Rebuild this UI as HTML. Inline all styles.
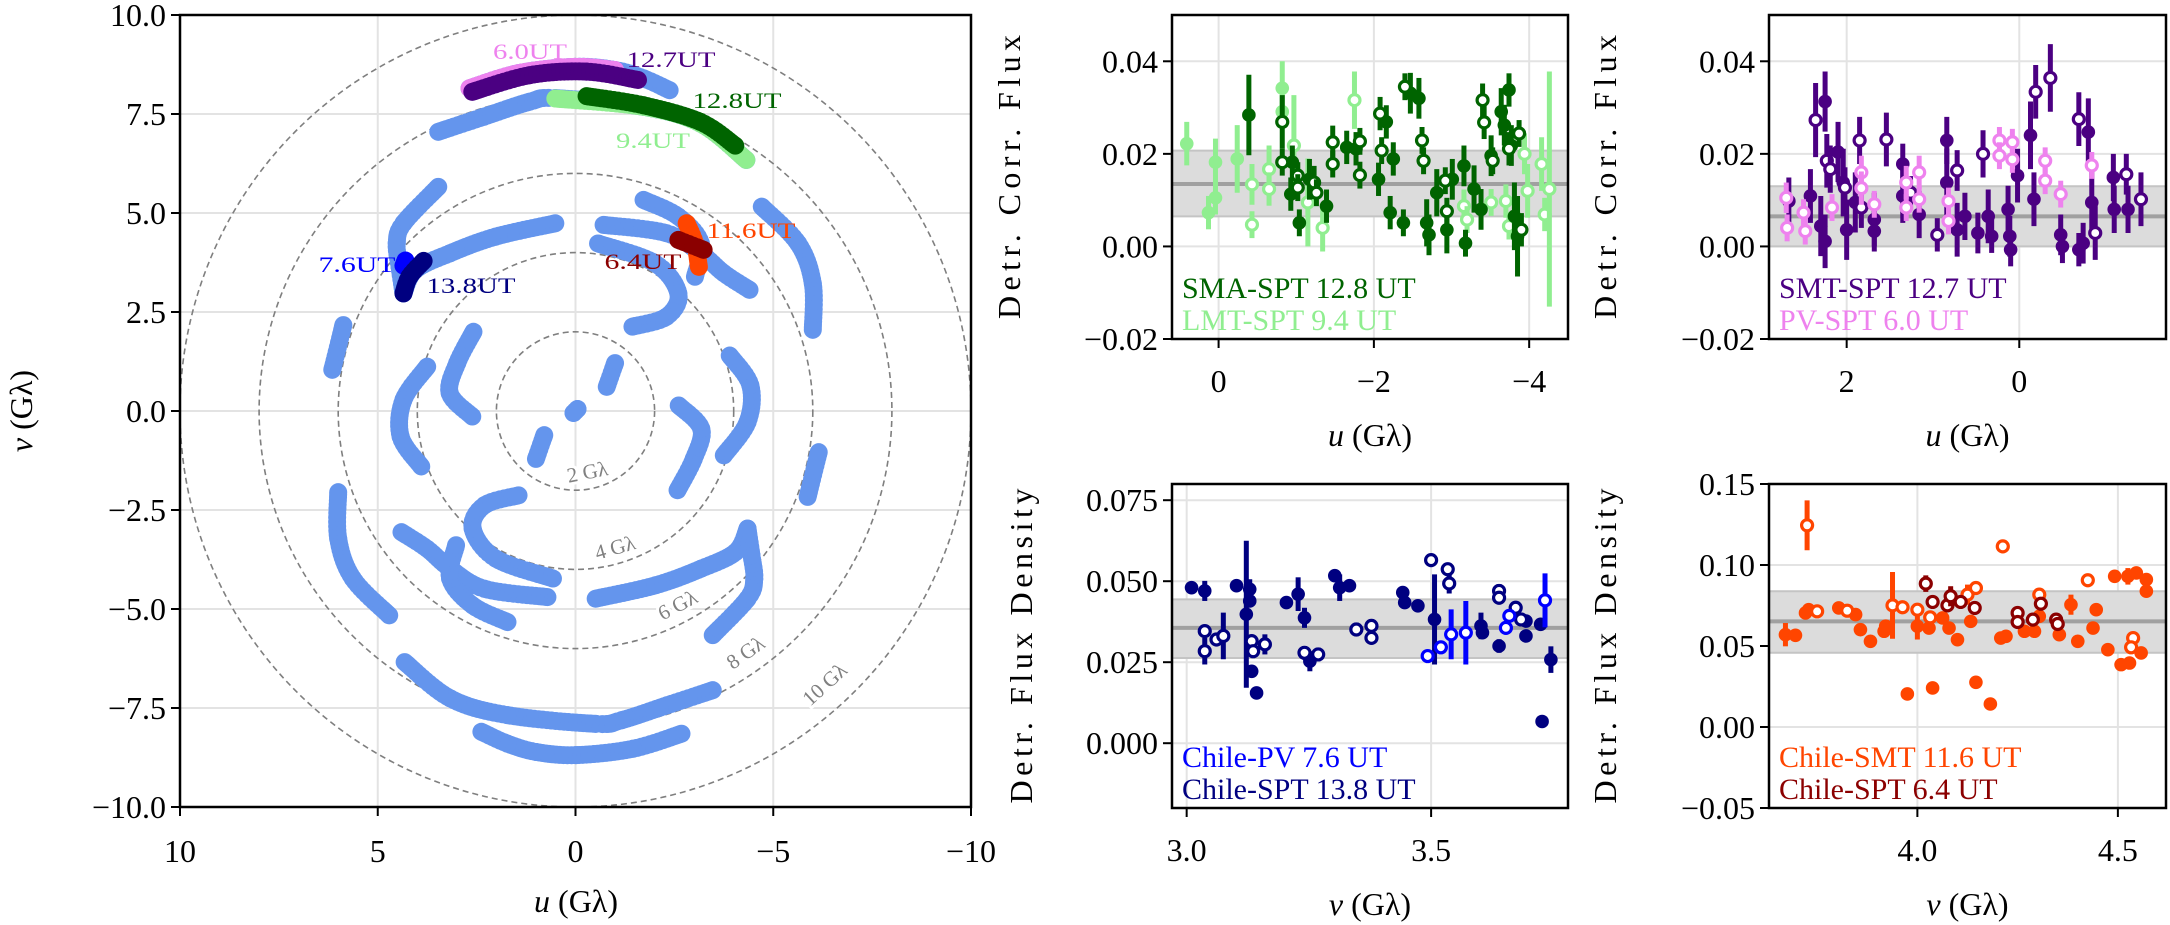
<!DOCTYPE html>
<html><head><meta charset="utf-8"><style>
html,body{margin:0;padding:0;background:#fff;}
svg{display:block;font-family:"Liberation Serif",serif;}
</style></head><body>
<svg id="fig" xmlns="http://www.w3.org/2000/svg" width="2170" height="925" viewBox="0 0 2170 925"></svg>
<script>
// ---------- uv coverage data (u, v in Gλ) ----------
const uvTrackTopA=[[2.68,8.15],[1.45,8.53],[0.01,8.69],[-1.0,8.61],[-1.72,8.40],[-2.38,8.1]];
const uvTrackTopB=[[3.47,7.05],[2.32,7.43],[1.16,7.81],[0.51,7.9],[-1.72,7.68],[-3.16,7.26],[-4.32,6.34]];
const uvTrack2=[[3.47,5.66],[4.35,4.74],[4.52,4.24],[4.45,3.64],[4.35,2.97]];
const uvTrack3=[[0.51,4.74],[2.03,4.40],[3.18,3.98],[4.05,3.56],[4.35,2.97]];
const uvTrack4=[[-0.71,4.70],[-2.30,4.49],[-3.17,3.98],[-3.75,3.48],[-4.4,3.06]];
const uvTrack5=[[-1.72,5.33],[-2.6,4.91],[-3.17,4.23],[-3.02,3.39]];
const uvTrack6=[[-0.57,4.23],[-2.01,3.73],[-2.6,2.97],[-2.3,2.38],[-1.44,2.13]];
const uvTrack7=[[-4.71,5.16],[-5.63,4.23],[-6.0,3.22],[-6.0,2.05]];
const uvTrack7b=[[5.87,2.17],[6.15,1.04]];
const uvTrack8=[[2.58,2.0],[2.99,1.21],[3.18,0.45],[2.61,-0.14]];
const uvTrack9=[[3.75,1.12],[4.35,0.28],[4.42,-0.65],[3.9,-1.4]];
const uvTrack10=[[-1.0,1.21],[-0.79,0.61]];
const uvTrackCenter=[[-0.05,0.05],[0.05,-0.05]];
const uvPink=[[2.68,8.15],[1.45,8.53],[0.01,8.69],[-1.0,8.61]];
const uvPurple=[[2.61,8.06],[1.16,8.48],[-0.28,8.57],[-1.58,8.36]];
const uvLightGreen=[[0.51,7.89],[-1.72,7.68],[-3.16,7.26],[-4.32,6.34]];
const uvDarkGreen=[[-0.28,7.95],[-1.72,7.72],[-3.16,7.3],[-4.04,6.7]];
const uvOrange=[[-2.81,4.74],[-3.02,4.24],[-3.12,3.64]];
const uvDarkRed=[[-2.6,4.32],[-3.24,4.07]];
const uvBlue=[[4.35,3.67],[4.3,3.8]];
const uvNavy=[[3.84,3.79],[4.20,3.39],[4.35,2.97]];
const uvRadii=[2,4,6,8,10];
const uvTickLabelsX=["10","5","0","−5","−10"];
const uvTickValsX=[10,5,0,-5,-10];
const uvTickLabelsY=["10.0","7.5","5.0","2.5","0.0","−2.5","−5.0","−7.5","−10.0"];
const uvTickValsY=[10,7.5,5,2.5,0,-2.5,-5,-7.5,-10];

// ---------- panel A: SMA-SPT / LMT-SPT (u, flux, err) ----------
const aLmtFilledU=[0.41,0.13,0.04,0.04,-0.24,-0.82,-0.82];
const aLmtFilledF=[0.0222,0.0073,0.0182,0.0105,0.0189,0.0342,0.0291];
const aLmtFilledE=[0.0047,0.0036,0.0051,0.0036,0.0073,0.0058,0.0036];
const aLmtOpenU=[-0.43,-0.65,-0.65,-0.43,-0.97,-1.15,-1.34,-1.75,-3.94,-3.98,-4.16,-4.20,-4.26,-3.16,-3.20,-3.51,-3.70,-3.74];
const aLmtOpenF=[0.0134,0.0167,0.0124,0.0047,0.0218,0.0095,0.0040,0.0316,0.0200,0.0120,0.0178,0.0069,0.0124,0.0087,0.0058,0.0095,0.0098,0.0044];
const aLmtOpenE=[0.0044,0.0051,0.0036,0.0029,0.0109,0.0095,0.0051,0.0062,0.0044,0.0058,0.0058,0.0036,0.0254,0.0036,0.0029,0.0029,0.0036,0.0029];
const aSmaFilledU=[-0.39,-0.95,-0.93,-1.04,-1.17,-1.39,-1.65,-1.77,-2.06,-2.16,-2.25,-2.21,-2.38,-2.47,-2.58,-2.68,-2.71,-2.81,-2.94,-3.01,-3.16,-3.18,-3.29,-3.38,-3.64,-3.68,-3.74,-3.81,-3.85,-3.77,-3.51];
const aSmaFilledF=[0.0284,0.0182,0.0113,0.0051,0.0145,0.0087,0.0214,0.0211,0.0145,0.0269,0.0189,0.0073,0.0051,0.0331,0.0320,0.0051,0.0025,0.0116,0.0036,0.0145,0.0174,0.0007,0.0124,0.0080,0.0291,0.0262,0.0338,0.0065,0.0022,0.0218,0.0196];
const aSmaFilledE=[0.0087,0.0036,0.0036,0.0029,0.0044,0.0036,0.0036,0.0036,0.0036,0.0036,0.0036,0.0036,0.0029,0.0044,0.0044,0.0051,0.0044,0.0051,0.0051,0.0044,0.0044,0.0029,0.0051,0.0044,0.0051,0.0044,0.0036,0.0073,0.0087,0.0044,0.0044];
const aSmaOpenU=[-0.82,-0.82,-1.02,-1.02,-1.23,-1.26,-1.47,-1.47,-1.82,-1.82,-2.08,-2.10,-2.40,-2.62,-2.64,-2.92,-2.94,-3.40,-3.42,-3.53,-3.74,-3.87,-3.90];
const aSmaOpenF=[0.0269,0.0182,0.0153,0.0127,0.0138,0.0116,0.0225,0.0178,0.0227,0.0154,0.0287,0.0207,0.0345,0.0229,0.0185,0.0142,0.0076,0.0316,0.0268,0.0185,0.0211,0.0244,0.0036];
const aSmaOpenE=[0.0058,0.0029,0.0029,0.0029,0.0036,0.0029,0.0036,0.0029,0.0029,0.0029,0.0036,0.0029,0.0029,0.0029,0.0029,0.0029,0.0029,0.0036,0.0036,0.0029,0.0036,0.0029,0.0036];
const aBand=[0.0065,0.0135,0.0207];

// ---------- panel B: SMT-SPT / PV-SPT ----------
const bSmtFilledU=[2.67,2.42,2.25,2.30,2.25,2.10,2.04,2.00,1.90,1.68,1.68,1.35,1.35,1.16,0.84,0.84,0.72,0.63,0.48,0.36,0.32,0.13,0.11,0.10,0.02,-0.13,-0.17,-0.48,-0.50,-0.69,-0.74,-0.80,-0.84,-1.09,-1.10,-1.26];
const bSmtFilledF=[0.0098,0.0109,0.0313,0.0044,0.0011,0.0204,0.0138,0.0036,0.0095,0.0058,0.0033,0.0178,0.0109,0.0069,0.0229,0.0138,0.0036,0.0065,0.0029,0.0065,0.0022,0.0080,0.0022,-0.0007,0.0153,0.0240,0.0102,0.0025,0.0000,-0.0007,0.0007,0.0247,0.0095,0.0149,0.0080,0.0080];
const bSmtFilledE=[0.0051,0.0058,0.0065,0.0065,0.0058,0.0065,0.0073,0.0065,0.0065,0.0058,0.0044,0.0044,0.0058,0.0051,0.0051,0.0073,0.0058,0.0051,0.0044,0.0058,0.0036,0.0051,0.0044,0.0036,0.0058,0.0073,0.0058,0.0044,0.0036,0.0036,0.0044,0.0073,0.0073,0.0051,0.0051,0.0051];
const bSmtOpenU=[2.36,2.23,2.19,2.02,1.83,1.85,1.54,1.26,0.95,0.72,0.42,-0.19,-0.36,-0.69,-0.88,-1.24,-1.41];
const bSmtOpenF=[0.0273,0.0185,0.0167,0.0127,0.0084,0.0229,0.0231,0.0116,0.0025,0.0164,0.0200,0.0334,0.0364,0.0275,0.0029,0.0156,0.0102];
const bSmtOpenE=[0.0080,0.0058,0.0051,0.0044,0.0044,0.0051,0.0058,0.0036,0.0036,0.0044,0.0051,0.0058,0.0073,0.0058,0.0058,0.0044,0.0058];
const bPvOpenU=[2.70,2.69,2.50,2.48,2.17,1.83,1.83,1.68,1.31,1.31,1.16,1.16,0.82,0.82,0.23,0.23,0.08,0.08,-0.30,-0.30,-0.48,-0.84];
const bPvOpenF=[0.0105,0.0040,0.0073,0.0033,0.0084,0.0160,0.0126,0.0091,0.0138,0.0084,0.0160,0.0102,0.0098,0.0055,0.0229,0.0196,0.0225,0.0188,0.0185,0.0142,0.0113,0.0175];
const bPvOpenE=[0.0033,0.0029,0.0029,0.0029,0.0029,0.0036,0.0036,0.0029,0.0036,0.0029,0.0036,0.0029,0.0029,0.0029,0.0029,0.0029,0.0029,0.0029,0.0029,0.0029,0.0029,0.0029];
const bBand=[0.0,0.0065,0.013];

// ---------- panel C: Chile-SPT / Chile-PV (v, flux, err) ----------
const cSptFilledV=[3.010,3.037,3.102,3.129,3.129,3.122,3.133,3.143,3.204,3.228,3.241,3.252,3.303,3.313,3.333,3.442,3.446,3.473,3.507,3.602,3.605,3.639,3.694,3.694,3.724,3.745,3.727];
const cSptFilledF=[0.0480,0.0470,0.0486,0.0475,0.0439,0.0398,0.0222,0.0155,0.0434,0.0460,0.0387,0.0253,0.0517,0.0480,0.0486,0.0465,0.0434,0.0424,0.0382,0.0362,0.0341,0.0300,0.0377,0.0331,0.0367,0.0258,0.0067];
const cSptFilledE=[0,0.0031,0,0.0031,0,0.0227,0,0,0,0.0052,0.0031,0.0031,0,0.0041,0,0,0,0,0.0139,0.0041,0,0.0021,0,0,0,0.0041,0];
const cSptOpenV=[3.037,3.037,3.061,3.075,3.133,3.136,3.160,3.241,3.269,3.347,3.378,3.378,3.500,3.534,3.537,3.639,3.639,3.673,3.684];
const cSptOpenF=[0.0346,0.0284,0.0320,0.0331,0.0315,0.0284,0.0305,0.0279,0.0274,0.0351,0.0362,0.0325,0.0565,0.0537,0.0493,0.0470,0.0449,0.0418,0.0382];
const cSptOpenE=[0,0.0041,0,0.0072,0,0,0.0031,0.0021,0.0021,0.0021,0.0021,0,0,0,0.0031,0.0021,0,0,0];
const cPvOpenV=[3.493,3.520,3.541,3.571,3.653,3.660,3.733];
const cPvOpenF=[0.0269,0.0296,0.0336,0.0341,0.0356,0.0393,0.0441];
const cPvOpenE=[0,0,0.0077,0.0098,0,0,0.0083];
const cBand=[0.0263,0.0356,0.0444];

// ---------- panel D: Chile-SMT / Chile-SPT ----------
const dSmtFilledV=[3.671,3.696,3.721,3.729,3.804,3.846,3.858,3.883,3.917,3.921,4.000,4.029,4.063,4.079,4.100,4.133,4.125,4.208,4.221,4.267,4.292,4.304,4.354,4.383,4.400,4.438,4.446,4.475,4.492,4.508,4.525,4.529,4.546,4.558,4.571,4.571,3.975,4.038,4.146,4.182];
const dSmtFilledF=[0.0570,0.0566,0.0704,0.0724,0.0735,0.0694,0.0601,0.0529,0.0591,0.0622,0.0622,0.0611,0.0673,0.0611,0.0539,0.0652,0.0817,0.0549,0.0560,0.0591,0.0591,0.0683,0.0570,0.0755,0.0529,0.0611,0.0724,0.0477,0.0930,0.0385,0.0930,0.0395,0.0951,0.0457,0.0910,0.0838,0.0204,0.0241,0.0276,0.0142];
const dSmtFilledE=[0.0072,0,0,0,0,0,0,0,0,0,0.0082,0,0,0,0,0,0.0062,0,0,0,0,0,0,0.0062,0,0,0,0,0,0,0.0051,0,0,0,0,0,0,0,0,0];
const dSmtOpenV=[3.725,3.750,3.825,3.938,3.963,4.000,4.032,4.125,4.146,4.213,4.304,4.425,4.538,4.533];
const dSmtOpenF=[0.1245,0.0714,0.0718,0.0751,0.0739,0.0724,0.0677,0.0817,0.0858,0.1115,0.0817,0.0906,0.0549,0.0492];
const dSmtOpenE=[0.0154,0,0,0.0206,0,0,0,0,0,0,0,0,0,0];
const dSptOpenV=[4.021,4.038,4.075,4.083,4.108,4.143,4.250,4.250,4.288,4.308,4.346,4.350];
const dSptOpenF=[0.0885,0.0772,0.0751,0.0807,0.0772,0.0735,0.0704,0.0648,0.0663,0.0761,0.0663,0.0636];
const dSptOpenE=[0.0051,0,0,0.0062,0,0,0,0,0,0,0,0];
const dBand=[0.0458,0.0652,0.0838];

const NS="http://www.w3.org/2000/svg";
const svg=document.getElementById('fig');
function mk(tag,attrs,parent){const e=document.createElementNS(NS,tag);for(const k in attrs)e.setAttribute(k,attrs[k]);(parent||svg).appendChild(e);return e;}
const FS=32;

// ================= LEFT UV PANEL =================
const L={x0:180,x1:971,y0:15,y1:807,min:-10,max:10};
const ux=u=>L.x0+(10-u)/20*(L.x1-L.x0);
const vy=v=>L.y0+(10-v)/20*(L.y1-L.y0);
const gUV=mk('g',{});


mk('rect',{x:L.x0,y:L.y0,width:L.x1-L.x0,height:L.y1-L.y0,fill:'#fff'},gUV);
uvTickValsX.forEach(u=>{const l=mk('line',{x1:ux(u),x2:ux(u),y1:L.y0,y2:L.y1,stroke:'#e3e3e3','stroke-width':2},gUV);

});
uvTickValsY.forEach(v=>{const l=mk('line',{x1:L.x0,x2:L.x1,y1:vy(v),y2:vy(v),stroke:'#e3e3e3','stroke-width':2},gUV);

});
uvRadii.forEach(r=>{const c=mk('ellipse',{cx:ux(0),cy:vy(0),rx:ux(0)-ux(r),ry:vy(-r)-vy(0),fill:'none',stroke:'#7f7f7f','stroke-width':1.6,'stroke-dasharray':'6,4'},gUV);

});
function crPoint(p0,p1,p2,p3,t){
  const t2=t*t,t3=t2*t;
  return [0.5*((2*p1[0])+(-p0[0]+p2[0])*t+(2*p0[0]-5*p1[0]+4*p2[0]-p3[0])*t2+(-p0[0]+3*p1[0]-3*p2[0]+p3[0])*t3),
          0.5*((2*p1[1])+(-p0[1]+p2[1])*t+(2*p0[1]-5*p1[1]+4*p2[1]-p3[1])*t2+(-p0[1]+3*p1[1]-3*p2[1]+p3[1])*t3)];
}
function drawTrack(pts,color,mirror,name){
  const g=mk('g',{fill:color},gUV);
  
  
  const sets=mirror?[pts,pts.map(p=>[-p[0],-p[1]])]:[pts];
  sets.forEach(s=>{
    const P=s.map(p=>[ux(p[0]),vy(p[1])]);
    if(P.length===1){mk('circle',{cx:P[0][0],cy:P[0][1],r:9},g);return;}
    for(let i=0;i<P.length-1;i++){
      const p0=P[Math.max(0,i-1)],p1=P[i],p2=P[i+1],p3=P[Math.min(P.length-1,i+2)];
      const d=Math.hypot(p2[0]-p1[0],p2[1]-p1[1]),n=Math.max(1,Math.ceil(d/4));
      for(let k=0;k<=n;k++){const q=crPoint(p0,p1,p2,p3,k/n);mk('circle',{cx:q[0],cy:q[1],r:9},g);}
    }
  });
}
const BL='#6495ED';
[uvTrackTopA,uvTrackTopB,uvTrack2,uvTrack3,uvTrack4,uvTrack5,uvTrack6,uvTrack7,uvTrack7b,uvTrack8,uvTrack9,uvTrack10,uvTrackCenter].forEach((t,i)=>drawTrack(t,BL,true,'uv-track-'+i));
drawTrack(uvPink,'#EE82EE',false,'uv-pv-spt');
drawTrack(uvPurple,'#4B0082',false,'uv-smt-spt');
drawTrack(uvLightGreen,'#90EE90',false,'uv-lmt-spt');
drawTrack(uvDarkGreen,'#006400',false,'uv-sma-spt');
drawTrack(uvOrange,'#FF4500',false,'uv-chile-smt');
drawTrack(uvDarkRed,'#8B0000',false,'uv-chile-spt-64');
drawTrack(uvBlue,'#0000FF',false,'uv-chile-pv');
drawTrack(uvNavy,'#000080',false,'uv-chile-spt-138');
const ringLabelPos=[[-0.3,-1.54],[-1.0,-3.45],[-2.58,-4.9],[-4.3,-6.1],[-6.3,-6.9]];
uvRadii.forEach((r,i)=>{
  const px=ux(ringLabelPos[i][0]),py=vy(ringLabelPos[i][1]);
  const dx=px-ux(0),dy=py-vy(0);
  const ang=Math.atan2(-dx,dy)*180/Math.PI;
  const t=mk('text',{x:px,y:py,'font-size':21,fill:'#808080','text-anchor':'middle','dominant-baseline':'central',transform:`rotate(${ang} ${px} ${py})`,stroke:'#fff','stroke-width':6,'paint-order':'stroke'},gUV);
  t.textContent=r+' Gλ';
  
  
});
const timeLabels=[["6.0UT",530,59,74,'#EE82EE'],["12.7UT",671,67,89,'#4B0082'],["12.8UT",737,108,89,'#006400'],["9.4UT",653,148,74,'#90EE90'],["11.6UT",751,238,89,'#FF4500'],["6.4UT",643,269,77,'#8B0000'],["7.6UT",357,272,77,'#0000FF'],["13.8UT",471,293,89,'#000080']];
timeLabels.forEach(l=>{const t=mk('text',{x:l[1],y:l[2],'font-size':22,fill:l[4],'text-anchor':'middle',textLength:l[3],lengthAdjust:'spacingAndGlyphs'},gUV);t.textContent=l[0];

});
mk('rect',{x:L.x0,y:L.y0,width:L.x1-L.x0,height:L.y1-L.y0,fill:'none',stroke:'#000','stroke-width':2.5},gUV);
uvTickValsX.forEach((u,i)=>{mk('line',{x1:ux(u),x2:ux(u),y1:L.y1,y2:L.y1+9,stroke:'#000','stroke-width':2},gUV);
const t=mk('text',{x:ux(u),y:862,'font-size':FS,'text-anchor':'middle'},gUV);t.textContent=uvTickLabelsX[i];

});
uvTickValsY.forEach((v,i)=>{mk('line',{x1:L.x0-9,x2:L.x0,y1:vy(v),y2:vy(v),stroke:'#000','stroke-width':2},gUV);
const t=mk('text',{x:L.x0-14,y:vy(v)+11,'font-size':FS,'text-anchor':'end'},gUV);t.textContent=uvTickLabelsY[i];

});
let t0=mk('text',{x:576,y:912,'font-size':FS,'text-anchor':'middle'});
t0.innerHTML='<tspan font-style="italic">u</tspan> (Gλ)';


t0=mk('text',{x:0,y:0,'font-size':FS,'text-anchor':'middle',transform:'translate(32,411) rotate(-90)'});
t0.innerHTML='<tspan font-style="italic">v</tspan> (Gλ)';



// ================= SMALL PANELS =================
function panel(cfg){
  const g=mk('g',{});
  
  
  const X=x=>cfg.x0+(x-cfg.xmin)/(cfg.xmax-cfg.xmin)*(cfg.x1-cfg.x0);
  const Y=y=>cfg.y1-(y-cfg.ymin)/(cfg.ymax-cfg.ymin)*(cfg.y1-cfg.y0);
  const clip='clip-'+cfg.name;
  const cp=mk('clipPath',{id:clip},g);mk('rect',{x:cfg.x0,y:cfg.y0,width:cfg.x1-cfg.x0,height:cfg.y1-cfg.y0},cp);
  const inner=mk('g',{'clip-path':`url(#${clip})`},g);
  cfg.xt.forEach(x=>mk('line',{x1:X(x),x2:X(x),y1:cfg.y0,y2:cfg.y1,stroke:'#e3e3e3','stroke-width':2},inner));
  cfg.yt.forEach(y=>mk('line',{x1:cfg.x0,x2:cfg.x1,y1:Y(y),y2:Y(y),stroke:'#e3e3e3','stroke-width':2},inner));
  const band=mk('rect',{x:cfg.x0,y:Y(cfg.band[2]),width:cfg.x1-cfg.x0,height:Y(cfg.band[0])-Y(cfg.band[2]),fill:'#dcdcdc'},inner);
  
  
  [cfg.band[0],cfg.band[2]].forEach(b=>mk('line',{x1:cfg.x0,x2:cfg.x1,y1:Y(b),y2:Y(b),stroke:'#c4c4c4','stroke-width':2},inner));
  const ml=mk('line',{x1:cfg.x0,x2:cfg.x1,y1:Y(cfg.band[1]),y2:Y(cfg.band[1]),stroke:'#a0a0a0','stroke-width':4},inner);
  
  
  cfg.series.forEach(s=>{
    const sg=mk('g',{},inner);
    
    
    s.x.forEach((xv,i)=>{
      const px=X(xv),py=Y(s.y[i]);
      if(s.e[i]>0)mk('line',{x1:px,x2:px,y1:Y(s.y[i]+s.e[i]),y2:Y(s.y[i]-s.e[i]),stroke:s.c,'stroke-width':5},sg);
      if(s.open)mk('circle',{cx:px,cy:py,r:5.5,fill:'#fff',stroke:s.c,'stroke-width':3.2},sg);
      else mk('circle',{cx:px,cy:py,r:6.8,fill:s.c},sg);
    });
  });
  mk('rect',{x:cfg.x0,y:cfg.y0,width:cfg.x1-cfg.x0,height:cfg.y1-cfg.y0,fill:'none',stroke:'#000','stroke-width':2.5},g);
  cfg.xt.forEach((x,i)=>{mk('line',{x1:X(x),x2:X(x),y1:cfg.y1,y2:cfg.y1+9,stroke:'#000','stroke-width':2},g);
    const t=mk('text',{x:X(x),y:cfg.y1+53,'font-size':FS,'text-anchor':'middle'},g);t.textContent=cfg.xl[i];
    
    });
  cfg.yt.forEach((y,i)=>{mk('line',{x1:cfg.x0-9,x2:cfg.x0,y1:Y(y),y2:Y(y),stroke:'#000','stroke-width':2},g);
    const t=mk('text',{x:cfg.x0-14,y:Y(y)+11,'font-size':FS,'text-anchor':'end'},g);t.textContent=cfg.yl[i];
    
    });
  const xt=mk('text',{x:(cfg.x0+cfg.x1)/2,y:cfg.y1+107,'font-size':FS,'text-anchor':'middle'},g);
  xt.innerHTML=`<tspan font-style="italic">${cfg.xvar}</tspan> (Gλ)`;
  
  
  const yt=mk('text',{x:0,y:0,'font-size':FS,'text-anchor':'middle',transform:`translate(${cfg.ylx},${(cfg.y0+cfg.y1)/2}) rotate(-90)`,textLength:cfg.ylen,lengthAdjust:'spacing'},g);
  yt.textContent=cfg.ylabel;
  
  
  cfg.legend.forEach((l,i)=>{const t=mk('text',{x:cfg.x0+10,y:cfg.y1-41+i*32,'font-size':30,fill:l[1]},g);t.textContent=l[0];
    
    });
}
const topY=[-0.02,0,0.02,0.04], topYL=["−0.02","0.00","0.02","0.04"];
panel({name:'panel-sma-lmt',x0:1172,x1:1568,y0:15,y1:339,xmin:0.6,xmax:-4.5,ymin:-0.02,ymax:0.05,
  xt:[0,-2,-4],xl:["0","−2","−4"],yt:topY,yl:topYL,band:aBand,xvar:'u',ylabel:'Detr.  Corr.  Flux',ylx:1020,ylen:284,
  legend:[["SMA-SPT 12.8 UT",'#006400'],["LMT-SPT 9.4 UT",'#90EE90']],
  series:[{name:'lmt-filled',x:aLmtFilledU,y:aLmtFilledF,e:aLmtFilledE,c:'#90EE90',open:false},
          {name:'lmt-open',x:aLmtOpenU,y:aLmtOpenF,e:aLmtOpenE,c:'#90EE90',open:true},
          {name:'sma-filled',x:aSmaFilledU,y:aSmaFilledF,e:aSmaFilledE,c:'#006400',open:false},
          {name:'sma-open',x:aSmaOpenU,y:aSmaOpenF,e:aSmaOpenE,c:'#006400',open:true}]});
panel({name:'panel-smt-pv',x0:1769,x1:2166,y0:15,y1:339,xmin:2.9,xmax:-1.7,ymin:-0.02,ymax:0.05,
  xt:[2,0],xl:["2","0"],yt:topY,yl:topYL,band:bBand,xvar:'u',ylabel:'Detr.  Corr.  Flux',ylx:1616,ylen:284,
  legend:[["SMT-SPT 12.7 UT",'#4B0082'],["PV-SPT 6.0 UT",'#EE82EE']],
  series:[{name:'smt-filled',x:bSmtFilledU,y:bSmtFilledF,e:bSmtFilledE,c:'#4B0082',open:false},
          {name:'smt-open',x:bSmtOpenU,y:bSmtOpenF,e:bSmtOpenE,c:'#4B0082',open:true},
          {name:'pv-open',x:bPvOpenU,y:bPvOpenF,e:bPvOpenE,c:'#EE82EE',open:true}]});
panel({name:'panel-chile-pv-spt',x0:1172,x1:1568,y0:484,y1:808,xmin:2.97,xmax:3.78,ymin:-0.02,ymax:0.08,
  xt:[3.0,3.5],xl:["3.0","3.5"],yt:[0,0.025,0.05,0.075],yl:["0.000","0.025","0.050","0.075"],band:cBand,xvar:'v',ylabel:'Detr.  Flux  Density',ylx:1032,ylen:315,
  legend:[["Chile-PV 7.6 UT",'#0000FF'],["Chile-SPT 13.8 UT",'#000080']],
  series:[{name:'chile-spt-filled',x:cSptFilledV,y:cSptFilledF,e:cSptFilledE,c:'#000080',open:false},
          {name:'chile-spt-open',x:cSptOpenV,y:cSptOpenF,e:cSptOpenE,c:'#000080',open:true},
          {name:'chile-pv-open',x:cPvOpenV,y:cPvOpenF,e:cPvOpenE,c:'#0000FF',open:true}]});
panel({name:'panel-chile-smt-spt',x0:1769,x1:2166,y0:484,y1:808,xmin:3.63,xmax:4.62,ymin:-0.05,ymax:0.15,
  xt:[4.0,4.5],xl:["4.0","4.5"],yt:[-0.05,0,0.05,0.10,0.15],yl:["−0.05","0.00","0.05","0.10","0.15"],band:dBand,xvar:'v',ylabel:'Detr.  Flux  Density',ylx:1616,ylen:315,
  legend:[["Chile-SMT 11.6 UT",'#FF4500'],["Chile-SPT 6.4 UT",'#8B0000']],
  series:[{name:'chile-smt-filled',x:dSmtFilledV,y:dSmtFilledF,e:dSmtFilledE,c:'#FF4500',open:false},
          {name:'chile-smt-open',x:dSmtOpenV,y:dSmtOpenF,e:dSmtOpenE,c:'#FF4500',open:true},
          {name:'chile-spt-open',x:dSptOpenV,y:dSptOpenF,e:dSptOpenE,c:'#8B0000',open:true}]});
</script>
</body></html>
